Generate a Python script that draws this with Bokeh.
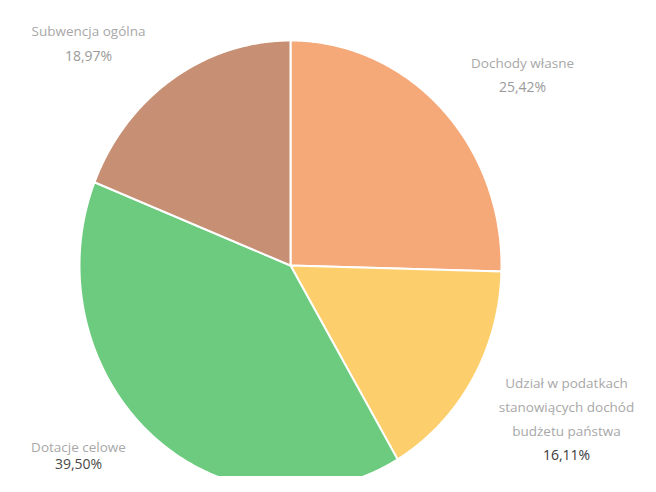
import numpy as np
from bokeh.plotting import figure
from bokeh.models import Range1d, ColumnDataSource
from bokeh.core.properties import value
from bokeh.embed import file_html
from bokeh.resources import INLINE

categories = ["Dochody własne", "Udział w podatkach stanowiących dochód budżetu państwa",
              "Dotacje celowe", "Subwencja ogólna"]
shares = [25.42, 16.11, 39.50, 18.97]
pct_labels = ["25,42%", "16,11%", "39,50%", "18,97%"]
name_lines = [["Dochody własne"],
              ["Udział w podatkach", "stanowiących dochód", "budżetu państwa"],
              ["Dotacje celowe"],
              ["Subwencja ogólna"]]
colors = ["#F5A878", "#FDCF6C", "#6CCB7E", "#C78F73"]

W, H = 640, 476
cx, cy = 290, H - 265   # centre (the scanned pie is slightly elliptical)
rx, ry = 211, 225

p = figure(width=W, height=H, output_backend="svg", toolbar_location=None,
           x_range=Range1d(0, W), y_range=Range1d(0, H), min_border=0)
p.axis.visible = False
p.grid.visible = False
p.outline_line_color = None
p.background_fill_color = "white"

frac = np.array(shares) / sum(shares)
cum = np.concatenate([[0], np.cumsum(frac)])
xs, ys = [], []
for a0, a1 in zip(cum[:-1], cum[1:]):
    t = np.linspace(a0, a1, 200) * 2 * np.pi
    xs.append(np.concatenate([[cx], cx + rx * np.sin(t), [cx]]))
    ys.append(np.concatenate([[cy], cy + ry * np.cos(t), [cy]]))
src = ColumnDataSource(dict(xs=xs, ys=ys, color=colors, cat=categories))
p.patches("xs", "ys", fill_color="color", line_color="white", line_width=2,
          line_join="miter", source=src)

# label anchor positions (canvas px, y measured from top), line spacing
label_pos = [(522, 62, 24), (566, 382, 24), (78, 446, 17), (88, 30, 25)]
pct_colors = ["#9a9a9a", "#3a3a3a", "#4a4a4a", "#9a9a9a"]
for (lx, ly, lh), lines, pct, pc in zip(label_pos, name_lines, pct_labels, pct_colors):
    for i, t in enumerate(lines):
        p.text(x=[lx], y=[H - (ly + i * lh)], text=[t], text_align="center",
               text_baseline="middle", text_font=value("Open Sans"),
               text_font_size="13.5px", text_color="#a8a8a8")
    p.text(x=[lx], y=[H - (ly + len(lines) * lh)], text=[pct], text_align="center",
           text_baseline="middle", text_font=value("Open Sans"),
           text_font_size="14px", text_color=pc)

open("out.html", "w").write(file_html(p, INLINE))
